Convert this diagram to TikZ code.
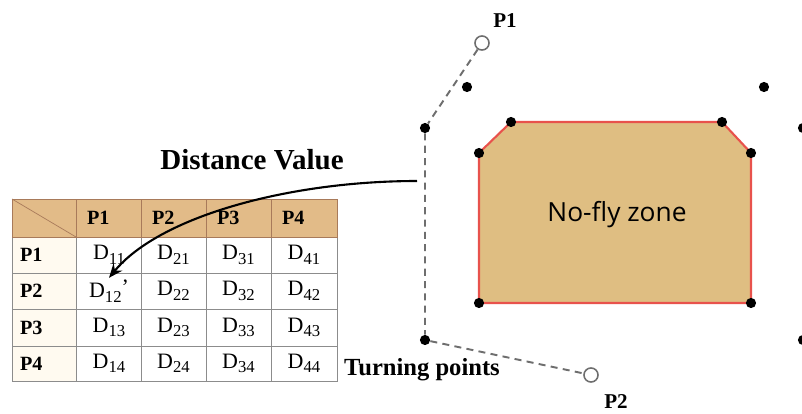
\documentclass[tikz,border=0pt]{standalone}
\usepackage{fontspec}
\setmainfont{Liberation Serif}
\newfontfamily\zonefont{Open Sans}
\usepackage{tikz}
\usetikzlibrary{arrows.meta}
\definecolor{sabbia}{HTML}{E2BB88}
\definecolor{zona}{HTML}{DFBE82}
\definecolor{rosso}{HTML}{E8524C}
\definecolor{grigio}{HTML}{6E6E6E}
\definecolor{griglia}{HTML}{8C8C8C}
\definecolor{bordo}{HTML}{A87A5A}
\definecolor{crema}{HTML}{FFFAF0}
\newcommand{\dval}[1]{D\raisebox{-0.45ex}{\fontsize{9.5}{10}\selectfont #1}}

\begin{document}
\begin{tikzpicture}[x=0.02cm, y=-0.02cm,
  dot/.style={circle, fill=black, inner sep=0pt, minimum size=5.8pt},
  endpt/.style={circle, draw=grigio, fill=white, line width=0.9pt, inner sep=0pt, minimum size=8pt},
  route/.style={grigio, line width=1.1pt, dash pattern=on 4pt off 3pt},
  cell/.style={inner sep=1pt, font=\fontsize{12.5}{14}\selectfont},
  head/.style={inner sep=1pt, font=\fontsize{11.5}{13}\selectfont\bfseries},
  lab/.style={font=\fontsize{12}{14}\selectfont\bfseries}]
  \clip (0,0) rectangle (802,413);
  % Table background
  \fill[sabbia] (12,199) rectangle (337,237);
  \fill[crema] (12,237) rectangle (76,381);
  % Table grid
  \draw[griglia] (12,199) rectangle (337,381);
  \foreach \x in {76,141,206,271} \draw[griglia] (\x,237) -- (\x,381);
  \foreach \y in {273,309,346} \draw[griglia] (12,\y) -- (337,\y);
  \draw[bordo] (12,199) rectangle (337,237);
  \foreach \x in {76,141,206,271} \draw[bordo] (\x,199) -- (\x,237);
  \draw[bordo] (12,199) -- (76,237);
  % Header labels
  \foreach \c/\x in {1/85,2/150,3/215,4/280}
    \node[head, anchor=west] (h\c) at (\x,218) {P\c};
  % Rows
  \foreach \r/\y in {1/255,2/291,3/327.5,4/363.5}{
    \node[head, anchor=west] (r\r) at (18,\y) {P\r};
    \foreach \c/\x in {1/109,2/173.5,3/238.5,4/304}
      \node[cell] (d\c\r) at (\x,\y) {\dval{\c\r}\ifnum\c\r=12 \raisebox{0.3ex}{'}\fi};
  }
  % Distance value arrow
  \node[font=\fontsize{16.5}{19}\selectfont\bfseries] (dist) at (252,160) {Distance Value};
  \coordinate (src) at (417,181);
  \draw[line width=1.2pt, -{Stealth[length=8pt, width=6.5pt]}]
    (src) .. controls (290,181) and (160,216) .. (d12.north);
  % No-fly zone
  \filldraw[fill=zona, draw=rosso, line width=1.2pt]
    (511,122) -- (722,122) -- (751,153) -- (751,303) -- (479,303) -- (479,153) -- cycle;
  \node[font=\zonefont\fontsize{15}{18}\selectfont] (zone) at (617,215) {No-fly zone};
  \foreach \p in {(511,122),(722,122),(751,153),(751,303),(479,303),(479,153)}
    \node[dot] at \p {};
  % Other points
  \node[dot] (a1) at (467,87) {};
  \node[dot] (a2) at (764,87) {};
  \node[dot] (a3) at (803,128) {};
  \node[dot] (a4) at (803,340) {};
  % Route with turning points
  \node[endpt] (p1) at (482,43) {};
  \node[dot] (t1) at (425,128) {};
  \node[dot] (t2) at (425,340) {};
  \node[endpt] (p2) at (591,375) {};
  \draw[route] (p1) -- (t1) -- (t2) -- (p2);
  \node[lab] (lp1) at (505,21) {P1};
  \node[lab] (lp2) at (616,402) {P2};
  \node[font=\fontsize{14}{16}\selectfont\bfseries] (turn) at (422,370) {Turning points};
\end{tikzpicture}
\end{document}
